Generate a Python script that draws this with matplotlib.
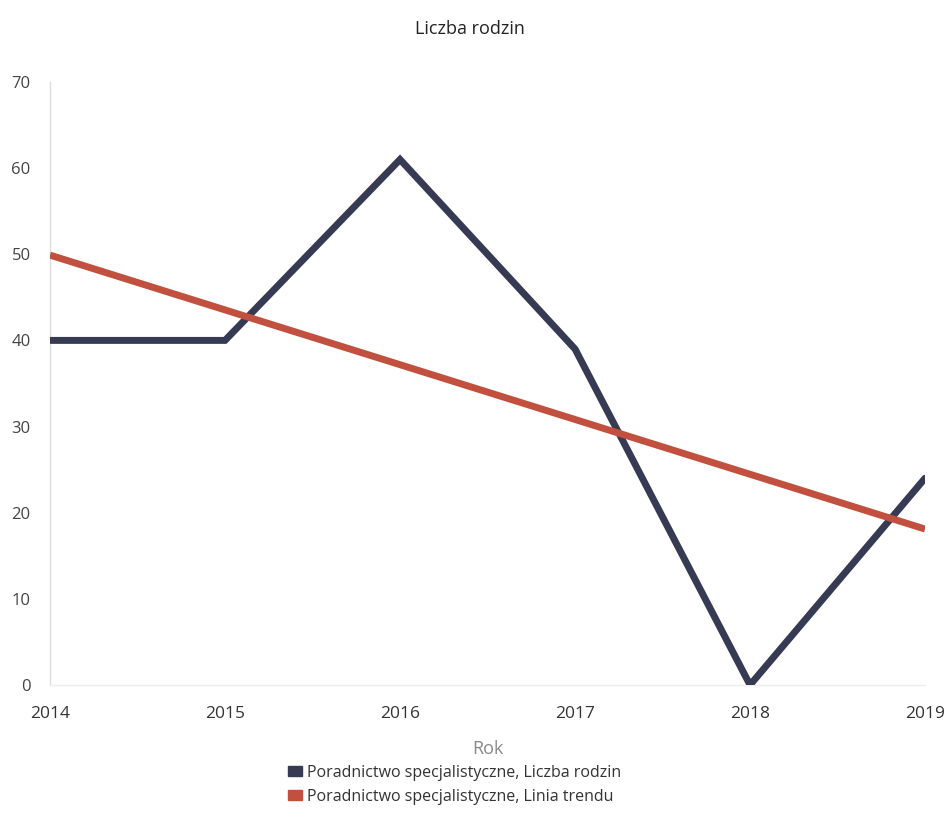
import matplotlib.pyplot as plt
from matplotlib.patches import Patch

plt.rcParams['font.family'] = ['Open Sans', 'DejaVu Sans']

years = [2014, 2015, 2016, 2017, 2018, 2019]
rodziny = [40, 40, 61, 39, 0, 24]
trend_years = [2014, 2019]
trend_vals = [49.9, 18.1]

navy = '#363a52'
red = '#c1503f'

fig = plt.figure(figsize=(9.51, 8.33), dpi=100)
ax = fig.add_axes([0.0526, 0.1777, 0.9201, 0.7239])

ax.plot(years, rodziny, color=navy, lw=5, solid_capstyle='round', solid_joinstyle='miter', zorder=3)
ax.plot(trend_years, trend_vals, color=red, lw=5, solid_capstyle='butt', zorder=4)

ax.set_xlim(2014, 2019)
ax.set_ylim(0, 70)
ax.set_yticks(range(0, 71, 10))
ax.set_xticks(years)
ax.set_xticklabels([str(y) for y in years], fontsize=12.5, color='#333333')
ax.tick_params(axis='y', labelsize=12, labelcolor='#444444', length=0, pad=14)
ax.tick_params(axis='x', length=0, pad=15)

for s in ['top', 'right']:
    ax.spines[s].set_visible(False)
ax.spines['left'].set_color('#dddddd')
ax.spines['bottom'].set_color('#eeeeee')
ax.spines['left'].set_linewidth(1)
ax.spines['bottom'].set_linewidth(1)

ax.set_xlabel('Rok', fontsize=13, color='#888888', labelpad=13)
fig.text(0.494, 0.965, 'Liczba rodzin', ha='center', va='center', fontsize=13, color='#222222')

handles = [Patch(color=navy, label='Poradnictwo specjalistyczne, Liczba rodzin'),
           Patch(color=red, label='Poradnictwo specjalistyczne, Linia trendu')]
fig.legend(handles=handles, loc='center', bbox_to_anchor=(0.478, 0.058), frameon=False,
           fontsize=11.5, handlelength=0.9, handleheight=0.6, handletextpad=0.3,
           labelspacing=0.5, labelcolor='#333333')

fig.savefig('out.png', dpi=100, facecolor='white')
